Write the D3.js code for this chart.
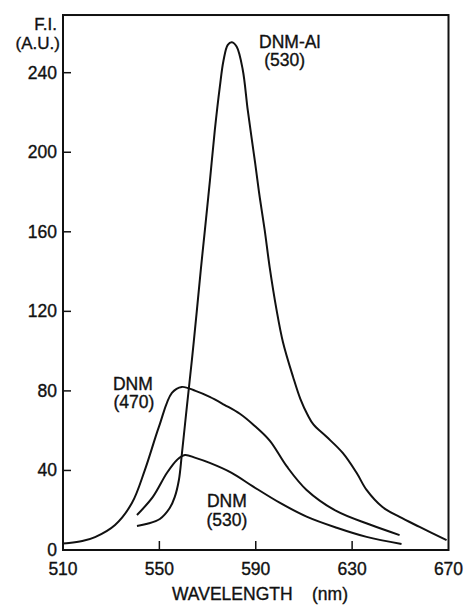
<!DOCTYPE html>
<html>
<head>
<meta charset="utf-8">
<script src="https://cdn.jsdelivr.net/npm/d3@7"></script>
<style>
  body { margin: 0; background: #fff; }
  text { font-family: "Liberation Sans", Arial, Helvetica, sans-serif; fill: #111; stroke: #111; stroke-width: 0.35px; }
</style>
</head>
<body>
<script>
// wavelength (nm) / fluorescence intensity (A.U.)
const dnmAl530 = [
  [540.7, 12.1], [545, 13.2], [550.2, 15.6], [554.3, 21.1], [556.4, 26.7], [558.1, 35.2],
  [559.3, 47.8], [561.4, 72], [563.5, 95.6], [565.5, 119.7], [567.2, 141], [568.9, 161],
  [571, 186], [573, 211], [575.1, 233], [576.6, 246], [578.4, 254], [580.1, 255.3],
  [582.1, 253], [584.6, 241.5], [586.7, 221], [589.7, 195], [591.7, 177], [593.7, 161],
  [595.8, 142], [598.6, 121], [601.3, 104.5], [605.5, 87], [608.5, 76], [611.5, 68],
  [614, 63], [619.4, 56.9], [626.1, 48.8], [631.9, 38.7], [636, 30.2], [642.6, 21.6],
  [649.7, 16.6], [658, 11.6], [669.2, 5]
];
const dnm470 = [
  [510, 3.3], [512.5, 3.5], [518, 4.5], [523.3, 6.5], [531.6, 12.6], [538.6, 23.6],
  [544, 40.3], [549.8, 61.9], [555.2, 79], [559.3, 82], [565, 80], [570.9, 77],
  [577, 73], [583.4, 68.5], [589, 63], [595.8, 55], [602.9, 42], [611.1, 30.2],
  [623.6, 19.5], [637.3, 12.8], [649.7, 7.5]
];
const dnm530 = [
  [540.7, 17.6], [547.3, 26.7], [553.1, 38.7], [557.3, 45.3], [560.6, 47.8], [565, 46.3],
  [570.9, 43.8], [580, 38.8], [588.8, 32], [599.9, 23.8], [611.1, 16.8], [623.6, 11.2],
  [636, 6.6], [650.5, 3]
];
const xTicks = [550, 590, 630];
const xLabels = [510, 550, 590, 630, 670];
const yTicks = [40, 80, 120, 160, 200, 240];
const yLabels = [0, 40, 80, 120, 160, 200, 240];
const curveLabels = [
  { lines: ["DNM-Al", "(530)"], at: [[604.1, 252.6], [602.0, 243.5]] },
  { lines: ["DNM", "(470)"], at: [[539.0, 80.5], [539.4, 71.4]] },
  { lines: ["DNM", "(530)"], at: [[578.0, 21.6], [578.0, 12.2]] }
];

const width = 466, height = 605;
const svg = d3.select("body").append("svg")
  .attr("width", width)
  .attr("height", height);

const x = d3.scaleLinear().domain([510, 670]).range([63, 448.5]);
const y = d3.scaleLinear().domain([0, 240]).range([550, 72.7]);
const yTop = 269;

// frame
svg.append("rect")
  .attr("x", x(510)).attr("y", y(yTop))
  .attr("width", x(670) - x(510)).attr("height", y(0) - y(yTop))
  .attr("fill", "none").attr("stroke", "#111").attr("stroke-width", 2);

// inward ticks
svg.selectAll(".xt").data(xTicks).enter().append("line")
  .attr("x1", d => x(d)).attr("x2", d => x(d))
  .attr("y1", y(0)).attr("y2", y(0) - 9)
  .attr("stroke", "#111").attr("stroke-width", 1.5);
svg.selectAll(".yt").data(yTicks).enter().append("line")
  .attr("x1", x(510)).attr("x2", x(510) + 8)
  .attr("y1", d => y(d)).attr("y2", d => y(d))
  .attr("stroke", "#111").attr("stroke-width", 1.5);

svg.selectAll(".xl").data(xLabels).enter().append("text")
  .attr("x", d => x(d)).attr("y", 575)
  .attr("text-anchor", "middle").attr("font-size", 17.5)
  .text(d => d);
svg.selectAll(".yl").data(yLabels).enter().append("text")
  .attr("x", 57).attr("y", d => y(d) + 6)
  .attr("text-anchor", "end").attr("font-size", 17.5)
  .text(d => d);

// axis titles
svg.append("text").attr("x", 57).attr("y", 30)
  .attr("text-anchor", "end").attr("font-size", 17).text("F.I.");
svg.append("text").attr("x", 60).attr("y", 49)
  .attr("text-anchor", "end").attr("font-size", 17).text("(A.U.)");
svg.append("text").attr("x", 172).attr("y", 600)
  .attr("font-size", 17.5).text("WAVELENGTH");
svg.append("text").attr("x", 312).attr("y", 600)
  .attr("font-size", 17.5).text("(nm)");

// curves
const line = d3.line()
  .x(d => x(d[0])).y(d => y(d[1]))
  .curve(d3.curveCatmullRom.alpha(0.5));
[dnmAl530, dnm470, dnm530].forEach(s => {
  svg.append("path").datum(s)
    .attr("d", line)
    .attr("fill", "none").attr("stroke", "#111")
    .attr("stroke-width", 2).attr("stroke-linejoin", "round");
});

curveLabels.forEach(l => {
  l.lines.forEach((t, i) => {
    svg.append("text")
      .attr("x", x(l.at[i][0])).attr("y", y(l.at[i][1]))
      .attr("text-anchor", "middle").attr("font-size", 17.5)
      .text(t);
  });
});
</script>
</body>
</html>
